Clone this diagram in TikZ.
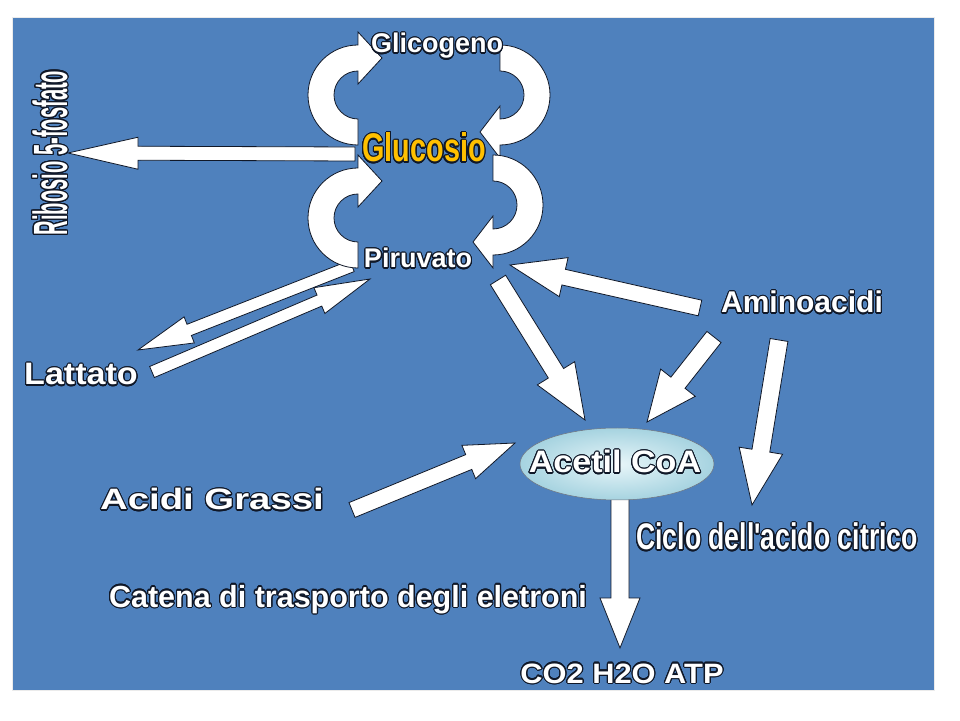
\documentclass[tikz,border=0pt]{standalone}
\usepackage{fontspec}
\usepackage{contour}
\usetikzlibrary{calc,shapes.geometric}
\newfontfamily\fnorm{Liberation Sans}
\newfontfamily\fnarrow{Liberation Sans}[FakeStretch=0.72]
\newfontfamily\fvnarrow{Liberation Sans}[FakeStretch=0.42]
\newfontfamily\fwide{Liberation Sans}[FakeStretch=1.3]
\newfontfamily\fsemi{Liberation Sans}[FakeStretch=1.1]
\definecolor{bgblue}{HTML}{4F81BD}
\definecolor{gold}{HTML}{FFC000}
\definecolor{ink}{HTML}{101828}
\definecolor{ellin}{HTML}{E8F6F9}
\definecolor{ellout}{HTML}{A6D3E0}
\contourlength{1.1pt}
\contournumber{24}
\tikzset{
  blk/.style={fill=white, draw=ink, line width=0.8pt, line join=miter},
  lbl/.style={inner sep=0pt, text=white, anchor=base},
}
\newcommand\barrow[5]{%
  \draw[blk] let \p1=(#1), \p2=(#2), \n1={atan2(\y2-\y1,\x2-\x1)},
      \n2={veclen(\x2-\x1,\y2-\y1)-#5} in
    (\p1) ++({\n1+90}:{#3}) -- ++({\n1}:{\n2*1pt}) -- ++({\n1+90}:{#4-#3})
    -- (\p2) -- ($(\p1)+({\n1}:{\n2*1pt})+({\n1-90}:{#4})$) -- ++({\n1+90}:{#4-#3})
    -- ($(\p1)+({\n1-90}:{#3})$) -- cycle;}
\begin{document}
\begin{tikzpicture}[x=1pt,y=1pt]
\useasboundingbox (0,0) rectangle (960,720);
\fill[white] (0,0) rectangle (960,720);
\fill[bgblue] (13,30) rectangle (934,702);
\draw[black!8, line width=1pt] (12.5,29.5) rectangle (934.5,702.5);

% arrow end points
\coordinate (glu-w) at (355,566);
\coordinate (rib-e) at (68,567);
\coordinate (pir-sw) at (352,454);
\coordinate (lat-ne) at (138,370);
\coordinate (lat-e) at (152,348);
\coordinate (pir-w) at (370,441);
\coordinate (pir-se) at (498,440);
\coordinate (ace-n) at (585,300);
\coordinate (ami-w) at (700,412);
\coordinate (pir-e) at (510,455);
\coordinate (ami-sw) at (714,383);
\coordinate (ace-ne) at (647,298);
\coordinate (ami-s) at (779,380);
\coordinate (cic-n) at (752,215);
\coordinate (gra-e) at (352,210);
\coordinate (ace-w) at (515,277);
\coordinate (ace-s) at (620,230);
\coordinate (co2-n) at (620,72);

% straight block arrows
\barrow{glu-w}{rib-e}{7pt}{16pt}{70pt}
\barrow{pir-sw}{lat-ne}{6pt}{14pt}{55pt}
\barrow{lat-e}{pir-w}{6pt}{14pt}{55pt}
\barrow{pir-se}{ace-n}{9pt}{22pt}{55pt}
\barrow{ami-w}{pir-e}{8pt}{20pt}{55pt}
\barrow{ami-sw}{ace-ne}{9pt}{22pt}{50pt}
\barrow{ami-s}{cic-n}{9pt}{22pt}{55pt}
\barrow{gra-e}{ace-w}{8pt}{18pt}{50pt}
\barrow{ace-s}{co2-n}{9pt}{20pt}{50pt}

% curved block arrows
\draw[blk] (358,575) arc[start angle=270,end angle=90,radius=50] -- (358,688) -- (382,662) -- (358,636) -- (358,649) arc[start angle=90,end angle=270,radius=24] -- cycle;
\draw[blk] (358,452) arc[start angle=270,end angle=90,radius=50] -- (358,565) -- (382,539) -- (358,513) -- (358,526) arc[start angle=90,end angle=270,radius=24] -- cycle;
\draw[blk] (500,675) arc[start angle=90,end angle=-90,radius=50] -- (500,562) -- (480,588) -- (500,614) -- (500,601) arc[start angle=-90,end angle=90,radius=24] -- cycle;
\draw[blk] (493,565) arc[start angle=90,end angle=-90,radius=50] -- (493,452) -- (473,478) -- (493,504) -- (493,491) arc[start angle=-90,end angle=90,radius=24] -- cycle;

% Acetil CoA
\node[ellipse, minimum width=194pt, minimum height=72pt, inner sep=0pt,
      inner color=ellin, outer color=ellout, draw=ink!60, line width=0.5pt] (acetil) at (617,256) {};

% text nodes
\node[lbl, font=\fnorm\bfseries\fontsize{27}{30}\selectfont] (glicogeno) at (437,667) {\contour{ink}{Glicogeno}};
\node[lbl, text=gold, font=\fnarrow\bfseries\fontsize{40}{44}\selectfont] (glucosio) at (424,558) {\contour{ink}{Glucosio}};
\node[lbl, font=\fnorm\bfseries\fontsize{27}{30}\selectfont] (piruvato) at (418,452) {\contour{ink}{Piruvato}};
\node[lbl, rotate=90, font=\fvnarrow\bfseries\fontsize{48}{50}\selectfont] (ribosio) at (67,567) {\contour{ink}{Ribosio 5-fosfato}};
\node[lbl, font=\fsemi\bfseries\fontsize{31}{34}\selectfont] (lattato) at (81,335) {\contour{ink}{Lattato}};
\node[lbl, font=\fnorm\bfseries\fontsize{30}{33}\selectfont] (amino) at (802,407) {\contour{ink}{Aminoacidi}};
\node[lbl, font=\fwide\bfseries\fontsize{29.5}{33}\selectfont] (grassi) at (212,210) {\contour{ink}{Acidi Grassi}};
\node[lbl, font=\fnarrow\bfseries\fontsize{37}{40}\selectfont] (ciclo) at (777,170) {\contour{ink}{Ciclo dell'acido citrico}};
\node[lbl, font=\fnorm\bfseries\fontsize{30.5}{33}\selectfont] (catena) at (348,113) {\contour{ink}{Catena di trasporto degli eletroni}};
\node[lbl, font=\fsemi\bfseries\fontsize{28}{31}\selectfont] (co2) at (622,37) {\contour{ink}{CO2 H2O ATP}};
\node[lbl, font=\fsemi\bfseries\fontsize{31}{34}\selectfont] (acetiltext) at (615,247) {\contour{ink}{Acetil CoA}};
\end{tikzpicture}
\end{document}
